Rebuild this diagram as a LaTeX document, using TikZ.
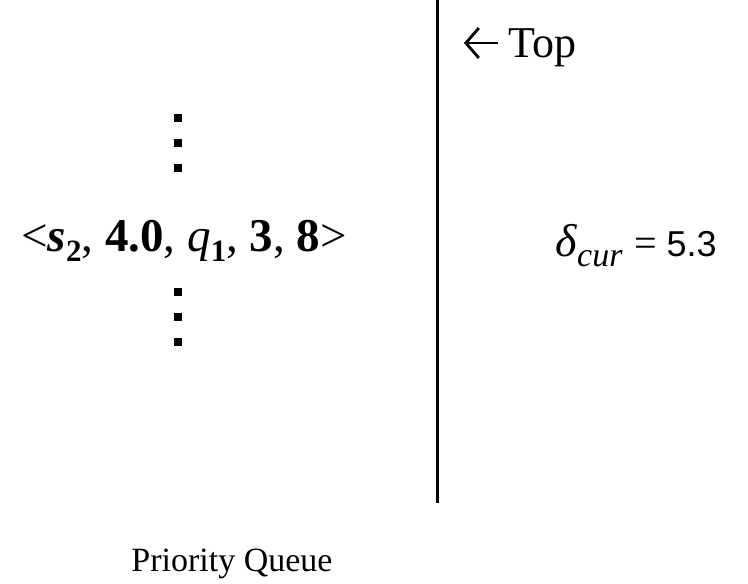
\documentclass[tikz,border=0pt]{standalone}
\usepackage{fontspec}
\usetikzlibrary{arrows.meta}
\setmainfont{Liberation Serif}
\newfontfamily\arialf{Liberation Sans}
\newcommand{\mysub}[2]{\raisebox{-0.22em}{\fontsize{#1}{#1}\selectfont #2}}
\begin{document}
\begin{tikzpicture}[x=1pt,y=-1pt,
  dotsq/.style={fill=black,minimum size=8pt,inner sep=0pt},
  txt/.style={inner sep=0pt,anchor=base}]
\useasboundingbox (0,0) rectangle (748,584);
\draw[line width=3pt] (437,0) coordinate (l1) -- (437,503) coordinate (l2);
\foreach \i/\y in {1/118,2/143,3/168,4/292,5/317,6/342}
  \node[dotsq] (d\i) at (178,\y) {};
\node[txt] (tuple) at (184,251) {\fontsize{47}{47}\selectfont <\textbf{\textit{s}}\mysub{31}{\textbf{2}}, \textbf{4.0}, \textit{q}\mysub{31}{\textbf{1}}, \textbf{3}, \textbf{8}>};
\coordinate (ae) at (498,43);
\coordinate (as) at (464,43);
\draw[line width=2.8pt,-{Straight Barb[length=13pt,width=30pt,line width=2.8pt]}] (ae) -- (as);
\node[txt,anchor=base west] (top) at (508,57) {\fontsize{44}{44}\selectfont Top};
\node[txt,anchor=base west] (delta) at (555,256) {\fontsize{46}{46}\selectfont \textit{δ}\mysub{34}{\textit{cur}} {\fontsize{40}{40}\selectfont = \arialf\fontsize{36}{36}\selectfont 5.3}};
\node[txt] (pq) at (232,571) {\fontsize{34}{34}\selectfont Priority Queue};
\end{tikzpicture}
\end{document}
